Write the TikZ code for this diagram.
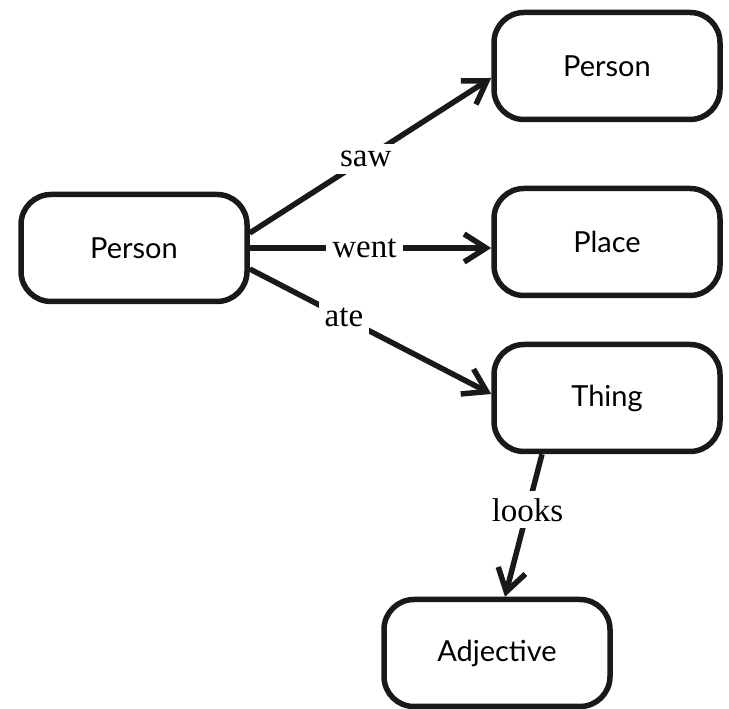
\documentclass[tikz,border=0pt]{standalone}
\usepackage{fontspec}
\setmainfont{Liberation Serif}
\newfontfamily\boxfont{Lato}
\usetikzlibrary{arrows.meta}
\begin{document}
\begin{tikzpicture}[x=1pt,y=1pt,
  box/.style={draw=black!90, line width=5.5pt, rounded corners=30pt,
    minimum width=226pt, minimum height=107pt, font=\boxfont\fontsize{29}{34}\selectfont, fill=white},
  rel/.style={draw=black!90, line width=5.5pt,
    -{Straight Barb[length=22pt,width=28pt,line width=5.5pt]}},
  lbl/.style={fill=white, inner xsep=6pt, inner ysep=7pt, font=\fontsize{33}{38}\selectfont}]
\useasboundingbox (0,0) rectangle (729,709);
\node[box] (pl) at (134,461) {Person};
\node[box] (pt) at (607,643) {Person};
\node[box] (pp) at (607,467) {Place};
\node[box] (th) at (607,311) {Thing};
\node[box] (ad) at (497,56) {Adjective};
\draw[rel] ([yshift=15pt]pl.east) -- node[lbl,pos=0.48] (lsaw) {saw} ([yshift=-12pt]pt.west);
\draw[rel] (pl.east) -- node[lbl,pos=0.475,inner ysep=2pt] (lwent) {went} (pl.east -| pp.west);
\draw[rel] ([yshift=-21pt]pl.east) -- node[lbl,pos=0.39] (late) {ate} ([yshift=4pt]th.west);
\draw[rel] ([xshift=-65pt]th.south) -- node[lbl,pos=0.39] (llooks) {looks} ([xshift=8pt]ad.north);
\end{tikzpicture}
\end{document}
